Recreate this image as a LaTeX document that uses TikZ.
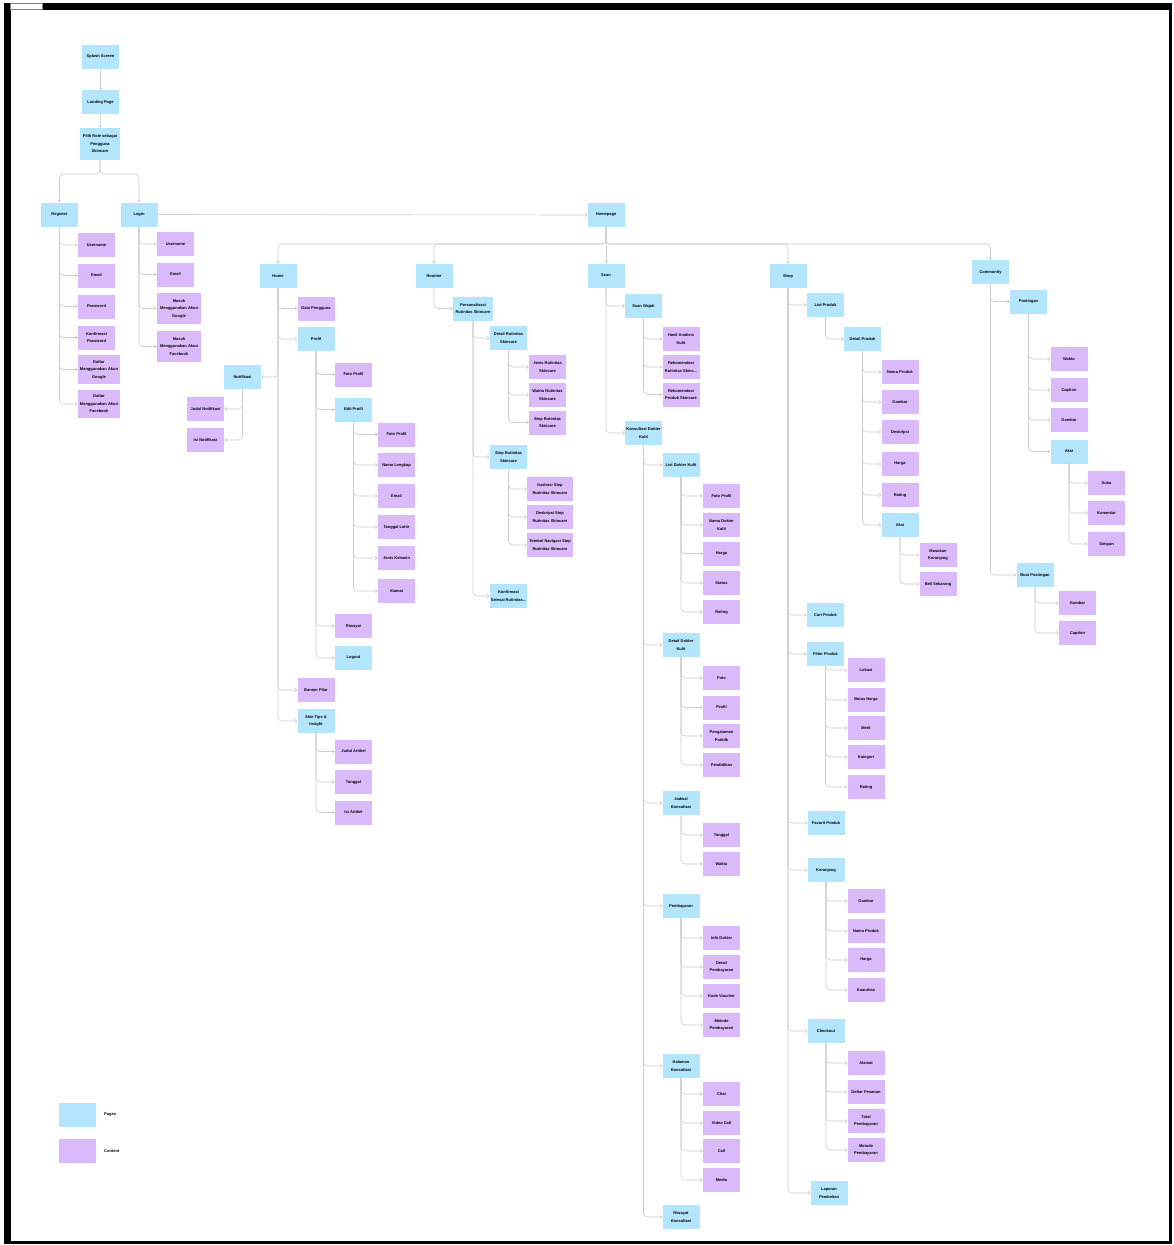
\documentclass[tikz,border=0pt]{standalone}
\usepackage{fontspec}
\setmainfont{Liberation Sans}
\usetikzlibrary{arrows.meta}

\definecolor{pagecol}{RGB}{179,229,252}
\definecolor{contentcol}{RGB}{219,186,252}
\definecolor{linecol}{RGB}{205,205,205}

\tikzset{
  box/.style={minimum width=37, minimum height=24, inner sep=1, align=center,
              font=\fontsize{4}{7.5}\selectfont\bfseries},
  page/.style={box, fill=pagecol},
  content/.style={box, fill=contentcol},
  conn/.style={draw=linecol, line width=0.6, rounded corners=4,
               -{Straight Barb[length=2,width=3.6]}},
}

\begin{document}
\begin{tikzpicture}[x=1pt, y=-1pt]

  % --- Marco ---
  \useasboundingbox (0,0) rectangle (1173,1245);
  \fill[white] (0,0) rectangle (1173,1245);
  \fill[black] (4,3) rectangle (1172,1244);
  \fill[white] (11,10) rectangle (1169,1241);
  \filldraw[fill=white, draw=gray, line width=0.3] (10,3) rectangle (42,9);

  % --- Inicio ---
  \node[page] (splash) at (100.5,56.5) {Splash Screen};
  \node[page] (landing) at (100.5,102) {Landing Page};
  \node[page, minimum width=40, minimum height=32] (pilihrole) at (100,144)
        {Pilih Role sebagai\\Pengguna\\Skincare};
  \node[page] (register) at (59.5,214.5) {Register};
  \node[page] (login) at (139,214.5) {Login};
  \node[page] (homepage) at (606,215) {Homepage};

  \draw[conn] (splash) -- (landing);
  \draw[conn] (landing) -- (pilihrole);
  \coordinate (split) at (100,174);
  \draw[conn] (pilihrole.south) -- (split) -| (register.north);
  \draw[conn] (pilihrole.south) -- (split) -| (login.north);
  \draw[conn] (login.east) -- (homepage.west);

  % --- Register ---
  \foreach \nm/\yy/\txt in {regUser/245/Username, regEmail/275.5/Email,
      regPass/306.5/Password, regKonf/337.5/{Konfirmasi\\Password}}{
    \node[content] (\nm) at (96.5,\yy) {\txt};
    \draw[conn] (register.south) |- (\nm.west);
  }
  \node[content, minimum width=42, minimum height=29] (regGoogle) at (99,369.5)
        {Daftar\\Menggunakan Akun\\Google};
  \node[content, minimum width=42, minimum height=28] (regFb) at (99,404)
        {Daftar\\Menggunakan Akun\\Facebook};
  \draw[conn] (register.south) |- (regGoogle.west);
  \draw[conn] (register.south) |- (regFb.west);

  % --- Login ---
  \foreach \nm/\yy/\txt in {logUser/244/Username, logEmail/274.5/Email}{
    \node[content] (\nm) at (175.5,\yy) {\txt};
    \draw[conn] (login.south) |- (\nm.west);
  }
  \node[content, minimum width=44, minimum height=31] (logGoogle) at (179,308.5)
        {Masuk\\Menggunakan Akun\\Google};
  \node[content, minimum width=44, minimum height=31] (logFb) at (179,346.5)
        {Masuk\\Menggunakan Akun\\Facebook};
  \draw[conn] (login.south) |- (logGoogle.west);
  \draw[conn] (login.south) |- (logFb.west);

  % --- Menu principal ---
  \node[page] (home) at (278,276) {Home};
  \node[page] (routine) at (434,276) {Routine};
  \node[page] (scan) at (606,275.5) {Scan};
  \node[page] (shop) at (788,276) {Shop};
  \node[page] (community) at (990.5,272) {Community};

  \coordinate (bus) at (606,244);
  \foreach \nm in {home, routine, shop, community}
    \draw[conn] (homepage.south) -- (bus) -| (\nm.north);
  \draw[conn] (homepage.south) -- (scan.north);

  % --- Home ---
  \node[content] (dataPengguna) at (316,308.5) {Data Pengguna};
  \node[page] (profil) at (316,339) {Profil};
  \node[page] (notif) at (242.5,377) {Notifikasi};
  \node[content] (bannerPilar) at (316,690) {Banner Pilar};
  \node[page] (skinTips) at (316,721) {Skin Tips \&\\Insight};
  \foreach \nm in {dataPengguna, profil, bannerPilar, skinTips}
    \draw[conn] (home.south) |- (\nm.west);
  \draw[conn] (home.south) |- (notif.east);

  \foreach \nm/\yy/\txt in {notifJudul/409/Judul Notifikasi, notifIsi/440/Isi Notifikasi}{
    \node[content] (\nm) at (205.5,\yy) {\txt};
    \draw[conn] (notif.south) |- (\nm.east);
  }

  \node[content] (fotoProfil) at (353.5,374.5) {Foto Profil};
  \node[page] (editProfil) at (353.5,409.5) {Edit Profil};
  \node[content] (riwayat) at (353.5,626) {Riwayat};
  \node[page] (logout) at (353.5,658) {Logout};
  \foreach \nm in {fotoProfil, editProfil, riwayat, logout}
    \draw[conn] (profil.south) |- (\nm.west);

  \foreach \nm/\yy/\txt in {epFoto/434.5/Foto Profil, epNama/465/Nama Lengkap,
      epEmail/496/Email, epTgl/527/Tanggal Lahir, epJenis/558/Jenis Kelamin,
      epAlamat/591/Alamat}{
    \node[content] (\nm) at (396.5,\yy) {\txt};
    \draw[conn] (editProfil.south) |- (\nm.west);
  }

  \foreach \nm/\yy/\txt in {artJudul/751.5/Judul Artikel, artTgl/782/Tanggal,
      artIsi/812.5/Isi Artikel}{
    \node[content] (\nm) at (353.5,\yy) {\txt};
    \draw[conn] (skinTips.south) |- (\nm.west);
  }

  % --- Routine ---
  \node[page, minimum width=40] (personal) at (473,308.5)
        {Personalisasi\\Rutinitas Skincare};
  \draw[conn] (routine.south) |- (personal.west);
  \node[page] (detailRut) at (508.5,338) {Detail Rutinitas\\Skincare};
  \node[page] (stepRut) at (508.5,457) {Step Rutinitas\\Skincare};
  \node[page] (konfirmRut) at (508.5,596) {Konfirmasi\\Selesai Rutinitas...};
  \foreach \nm in {detailRut, stepRut, konfirmRut}
    \draw[conn] (personal.south) |- (\nm.west);

  \foreach \nm/\yy/\txt in {drJenis/367/{Jenis Rutinitas\\Skincare},
      drWaktu/395/{Waktu Rutinitas\\Skincare}, drStep/422.5/{Step Rutinitas\\Skincare}}{
    \node[content] (\nm) at (547.5,\yy) {\txt};
    \draw[conn] (detailRut.south) |- (\nm.west);
  }
  \foreach \nm/\yy/\txt in {srIlus/489/{Ilustrasi Step\\Rutinitas Skincare},
      srDesk/517/{Deskripsi Step\\Rutinitas Skincare},
      srNav/545/{Tombol Navigasi Step\\Rutinitas Skincare}}{
    \node[content, minimum width=46] (\nm) at (550,\yy) {\txt};
    \draw[conn] (stepRut.south) |- (\nm.west);
  }

  % --- Scan ---
  \node[page] (scanWajah) at (643.5,306) {Scan Wajah};
  \node[page] (konsul) at (643.5,433) {Konsultasi Dokter\\Kulit};
  \draw[conn] (scan.south) |- (scanWajah.west);
  \draw[conn] (scan.south) |- (konsul.west);

  \foreach \nm/\yy/\txt in {swHasil/339/{Hasil Analisis\\Kulit},
      swRekRut/367/{Rekomendasi\\Rutinitas Skinc...},
      swRekProd/394.5/{Rekomendasi\\Produk Skincare}}{
    \node[content] (\nm) at (681,\yy) {\txt};
    \draw[conn] (scanWajah.south) |- (\nm.west);
  }

  \node[page] (listDokter) at (681,465) {List Dokter Kulit};
  \node[page] (detailDokter) at (681,645) {Detail Dokter\\Kulit};
  \node[page] (jadwal) at (681,803) {Jadwal\\Konsultasi};
  \node[page] (bayar) at (681,906) {Pembayaran};
  \node[page] (halaman) at (681,1066) {Halaman\\Konsultasi};
  \node[page] (riwayatKonsul) at (681,1217) {Riwayat\\Konsultasi};
  \foreach \nm in {listDokter, detailDokter, jadwal, bayar, halaman, riwayatKonsul}
    \draw[conn] (konsul.south) |- (\nm.west);

  \foreach \nm/\yy/\txt in {ldFoto/496/Foto Profil, ldNama/525/{Nama Dokter\\Kulit},
      ldHarga/553.5/Harga, ldStatus/583/Status, ldRating/612/Rating}{
    \node[content] (\nm) at (721.5,\yy) {\txt};
    \draw[conn] (listDokter.south) |- (\nm.west);
  }
  \foreach \nm/\yy/\txt in {ddFoto/678/Foto, ddProfil/707.5/Profil,
      ddPengalaman/736/{Pengalaman\\Praktik}, ddPendidikan/765/Pendidikan}{
    \node[content] (\nm) at (721.5,\yy) {\txt};
    \draw[conn] (detailDokter.south) |- (\nm.west);
  }
  \foreach \nm/\yy/\txt in {jdTgl/835/Tanggal, jdWaktu/864/Waktu}{
    \node[content] (\nm) at (721.5,\yy) {\txt};
    \draw[conn] (jadwal.south) |- (\nm.west);
  }
  \foreach \nm/\yy/\txt in {byInfo/938/Info Dokter, byDetail/967/{Detail\\Pembayaran},
      byKode/996/Kode Voucher, byMetode/1025/{Metode\\Pembayaran}}{
    \node[content] (\nm) at (721.5,\yy) {\txt};
    \draw[conn] (bayar.south) |- (\nm.west);
  }
  \foreach \nm/\yy/\txt in {hkChat/1094/Chat, hkVideo/1123/Video Call,
      hkCall/1151/Call, hkMedia/1180/Media}{
    \node[content] (\nm) at (721.5,\yy) {\txt};
    \draw[conn] (halaman.south) |- (\nm.west);
  }

  % --- Shop ---
  \node[page] (listProduk) at (825.5,305) {List Produk};
  \node[page] (detailProduk) at (862.5,339) {Detail Produk};
  \node[page] (aksiProduk) at (900,525) {Aksi};
  \node[page] (cari) at (825.5,615) {Cari Produk};
  \node[page] (filter) at (825.5,654) {Filter Produk};
  \node[page] (favorit) at (826,823) {Favorit Produk};
  \node[page] (keranjang) at (826,870) {Keranjang};
  \node[page] (checkout) at (826,1031) {Checkout};
  \node[page] (laporan) at (829,1193) {Laporan\\Pembelian};
  \foreach \nm in {listProduk, cari, filter, favorit, keranjang, checkout, laporan}
    \draw[conn] (shop.south) |- (\nm.west);
  \draw[conn] (listProduk.south) |- (detailProduk.west);

  \foreach \nm/\yy/\txt in {dpNama/372/Nama Produk, dpGambar/402/Gambar,
      dpDesk/432/Deskripsi, dpHarga/464/Harga, dpRating/495/Rating}{
    \node[content] (\nm) at (900,\yy) {\txt};
    \draw[conn] (detailProduk.south) |- (\nm.west);
  }
  \draw[conn] (detailProduk.south) |- (aksiProduk.west);
  \foreach \nm/\yy/\txt in {apKeranjang/555/{Masukan\\Keranjang}, apBeli/584/Beli Sekarang}{
    \node[content] (\nm) at (938,\yy) {\txt};
    \draw[conn] (aksiProduk.south) |- (\nm.west);
  }
  \foreach \nm/\yy/\txt in {fpLokasi/670/Lokasi, fpBatas/700/Batas Harga,
      fpMerk/728/Merk, fpKategori/757/Kategori, fpRating/787/Rating}{
    \node[content] (\nm) at (866,\yy) {\txt};
    \draw[conn] (filter.south) |- (\nm.west);
  }
  \foreach \nm/\yy/\txt in {krGambar/901/Gambar, krNama/931/Nama Produk,
      krHarga/960/Harga, krKuantitas/990/Kuantitas}{
    \node[content] (\nm) at (866,\yy) {\txt};
    \draw[conn] (keranjang.south) |- (\nm.west);
  }
  \foreach \nm/\yy/\txt in {coAlamat/1063/Alamat, coDaftar/1092/Daftar Pesanan,
      coTotal/1121/{Total\\Pembayaran}, coMetode/1150/{Metode\\Pembayaran}}{
    \node[content] (\nm) at (866,\yy) {\txt};
    \draw[conn] (checkout.south) |- (\nm.west);
  }

  % --- Community ---
  \node[page] (postingan) at (1028.5,301.5) {Postingan};
  \node[page] (buatPost) at (1035,575) {Buat Postingan};
  \draw[conn] (community.south) |- (postingan.west);
  \draw[conn] (community.south) |- (buatPost.west);

  \foreach \nm/\yy/\txt in {psWaktu/359/Waktu, psCaption/390/Caption, psGambar/420/Gambar}{
    \node[content] (\nm) at (1069,\yy) {\txt};
    \draw[conn] (postingan.south) |- (\nm.west);
  }
  \node[page] (aksiPost) at (1069,451.5) {Aksi};
  \draw[conn] (postingan.south) |- (aksiPost.west);
  \foreach \nm/\yy/\txt in {akSuka/483/Suka, akKomentar/513/Komentar, akSimpan/544/Simpan}{
    \node[content] (\nm) at (1106.5,\yy) {\txt};
    \draw[conn] (aksiPost.south) |- (\nm.west);
  }
  \foreach \nm/\yy/\txt in {bpGambar/603/Gambar, bpCaption/633/Caption}{
    \node[content] (\nm) at (1077.5,\yy) {\txt};
    \draw[conn] (buatPost.south) |- (\nm.west);
  }

  % --- Leyenda ---
  \node[page] (legPage) at (77,1114.5) {};
  \node[content] (legContent) at (77,1151) {};
  \node[right, font=\fontsize{4}{5}\selectfont\bfseries, inner sep=0] at (104,1114.5) {Pages};
  \node[right, font=\fontsize{4}{5}\selectfont\bfseries, inner sep=0] at (104,1151) {Content};

\end{tikzpicture}
\end{document}
